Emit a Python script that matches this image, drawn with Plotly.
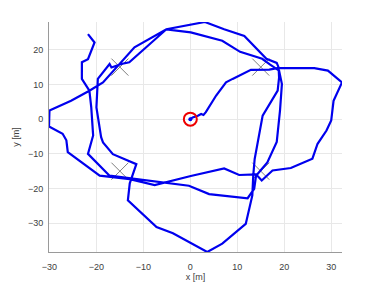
import plotly.graph_objects as go

# Trajectory (x, y in metres)
path_x = [0, 0.5, 1.6, 2.3, 2.8, 3.3, 5.5, 7.6, 9.0, 12.9, 16.8, 18.5, 26.4, 29.3, 32.3, 30.5, 30.0, 29.0, 27.1, 26.0,
          21.4, 17.5, 15.2, 14.0, 10.4, 7.2, 0.1, -5.1, -7.6, -12.9, -19.3, -26.1, -26.4, -27.2, -30.1, -30.0,
          -25.4, -21.5, -18.6, -11.9, -5.1,
          3.1, 7.2, 11.5, 16.2, 18.4, 18.8, 18.9, 18.6, 15.4, 14.3, 13.7, 13.4, 13.2, 11.8, 6.8, 3.6, -0.1, -3.7,
          -7.2, -13.3, -12.9, -11.5, -16.5, -18.6, -19.0, -20.0, -19.7, -17.2, -16.8, -14.7, -13.0, -5.1,
          0.1, 6.8, 10.6, 15.3, 17.0, 18.9, 19.5, 19.1, 18.4, 16.4, 14.0, 13.6, 12.2, 4.0, -0.3, -17.2, -21.8,
          -20.7, -21.1, -21.5, -23.1, -23.1, -21.8, -20.4, -21.8]
path_y = [0, 0.5, 1.0, 1.5, 1.2, 2.0, 6.8, 10.6, 11.6, 14.2, 14.3, 14.7, 14.7, 14.0, 10.6, 5.3, -0.4, -3.3, -7.1, -11.4,
          -14.1, -14.8, -17.7, -15.9, -16.1, -14.2, -16.4, -18.2, -19.0, -17.3, -16.3, -9.5, -6.1, -4.2, -2.1, 2.5,
          5.3, 8.2, 10.6, 20.7, 25.9,
          28.0, 25.9, 24.0, 17.4, 16.2, 14.9, 12.0, 8.2, 1.0, -6.7, -11.5, -16.3, -22.0, -30.2, -35.9, -38.3, -35.5, -32.9,
          -31.1, -23.4, -18.5, -13.0, -10.1, -6.7, -5.2, 3.4, 11.6, 15.9, 14.9, 15.9, 16.4, 25.9,
          25.0, 22.6, 19.4, 17.4, 15.7, 14.0, 10.1, 2.5, -6.6, -12.5, -16.3, -20.1, -22.8, -21.6, -19.2, -16.3, -10.0,
          -4.7, 3.4, 8.2, 11.6, 16.4, 17.3, 22.1, 24.5]

# Landmarks
lm_x = [-15, 15, -15, 15]
lm_y = [15, 15, -15, -15]

# Start point
start_x = [0]
start_y = [0]

x_ticks = [-30, -20, -10, 0, 10, 20, 30]
y_ticks = [-30, -20, -10, 0, 10, 20]

fig = go.Figure()
fig.add_trace(go.Scatter(x=lm_x, y=lm_y, mode="markers",
                         marker=dict(symbol="x-thin", size=17, color="#7f7f7f",
                                     line=dict(color="#7f7f7f", width=1)),
                         showlegend=False, hoverinfo="skip"))
fig.add_trace(go.Scatter(x=path_x, y=path_y, mode="lines",
                         line=dict(color="#0000ee", width=2.2), showlegend=False))
fig.add_trace(go.Scatter(x=start_x, y=start_y, mode="markers",
                         marker=dict(symbol="circle", size=4, color="#0000ee"), showlegend=False))
fig.add_trace(go.Scatter(x=start_x, y=start_y, mode="markers",
                         marker=dict(symbol="circle-open", size=13, color="#ee0000",
                                     line=dict(color="#ee0000", width=2)),
                         showlegend=False))

axis_common = dict(showgrid=True, gridcolor="#e8e8e8", gridwidth=1, zeroline=False,
                   showline=True, linecolor="#9a9a9a", linewidth=1,
                   ticks="outside", tickcolor="rgba(0,0,0,0)", automargin=False,
                   tickfont=dict(family="Liberation Sans, Arial", size=9, color="#404040"),
                   mirror=False)

fig.update_layout(
    width=378, height=284,
    margin=dict(l=49, r=36, t=22, b=32),
    paper_bgcolor="white", plot_bgcolor="white",
    xaxis=dict(range=[min(path_x), max(path_x)], tickvals=x_ticks, ticklen=6,
               title=dict(text="x [m]", standoff=2,
                          font=dict(family="Liberation Sans, Arial", size=9, color="#404040")),
               **axis_common),
    yaxis=dict(range=[min(path_y), max(path_y)], tickvals=y_ticks, ticklen=3,
               title=dict(text="y [m]", standoff=6,
                          font=dict(family="Liberation Sans, Arial", size=9, color="#404040")),
               **axis_common),
)

fig.write_html("out.html")
